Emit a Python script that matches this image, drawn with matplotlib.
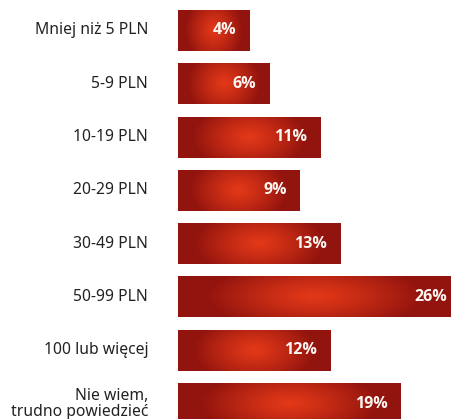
import numpy as np
import matplotlib
matplotlib.use("Agg")
from matplotlib import pyplot as plt

categories = ["Mniej niż 5 PLN", "5-9 PLN", "10-19 PLN", "20-29 PLN",
              "30-49 PLN", "50-99 PLN", "100 lub więcej", "Nie wiem,\ntrudno powiedzieć"]
values = [4, 6, 11, 9, 13, 26, 12, 19]
value_labels = ["4%", "6%", "11%", "9%", "13%", "26%", "12%", "19%"]

xmin, xmax = -3.1, 24.0
bar_h = 0.77
c_center = np.array([226, 56, 24]) / 255
c_edge = np.array([146, 20, 14]) / 255


def gradient(w=200, h=40):
    # elliptical radial blend, bright centre -> dark red edges
    xx = np.linspace(-1, 1, w)
    yy = np.linspace(-1, 1, h)
    X, Y = np.meshgrid(xx, yy)
    r = np.sqrt((X / 0.8) ** 2 + (Y / 1.7) ** 2)
    t = np.clip(r, 0, 1) ** 1.2
    return c_center[None, None, :] * (1 - t[..., None]) + c_edge[None, None, :] * t[..., None]


plt.rcParams['font.family'] = ['Noto Sans', 'DejaVu Sans']
fig = plt.figure(figsize=(4.51, 4.19), dpi=100)
ax = fig.add_axes([178 / 451, 0, 273 / 451, 1])
ax.set_axis_off()

ypos = np.arange(len(values))
bars = ax.barh(ypos, np.array(values) - xmin, left=xmin, height=bar_h,
               color=c_edge, linewidth=0)
img = gradient()
for b, v, lab, cat in zip(bars, values, value_labels, categories):
    x0, y0 = b.get_x(), b.get_y()
    x1 = min(x0 + b.get_width(), xmax)
    im = ax.imshow(img, extent=(x0, x1, y0 + bar_h, y0), aspect='auto',
                   interpolation='bilinear', zorder=2)
    im.set_clip_path(b)
    pad = -9.5 if v <= xmax else -3
    ax.annotate(lab, (x1, b.get_y() + bar_h / 2), xytext=(pad, 0),
                textcoords='offset points', ha='right', va='center',
                color='#fbf6f2', fontsize=11.5, fontweight='bold',
                family=['Open Sans', 'DejaVu Sans'], zorder=3)
    ax.annotate(cat, (xmin, b.get_y() + bar_h / 2), xytext=(-21.5, 0),
                textcoords='offset points', ha='right', va='center',
                multialignment='right', linespacing=1.0,
                color='#222222', fontsize=11.3, annotation_clip=False)

ax.set_xlim(xmin, xmax)
ax.set_ylim(7.29, -0.572)

fig.savefig("out.png", dpi=100)
